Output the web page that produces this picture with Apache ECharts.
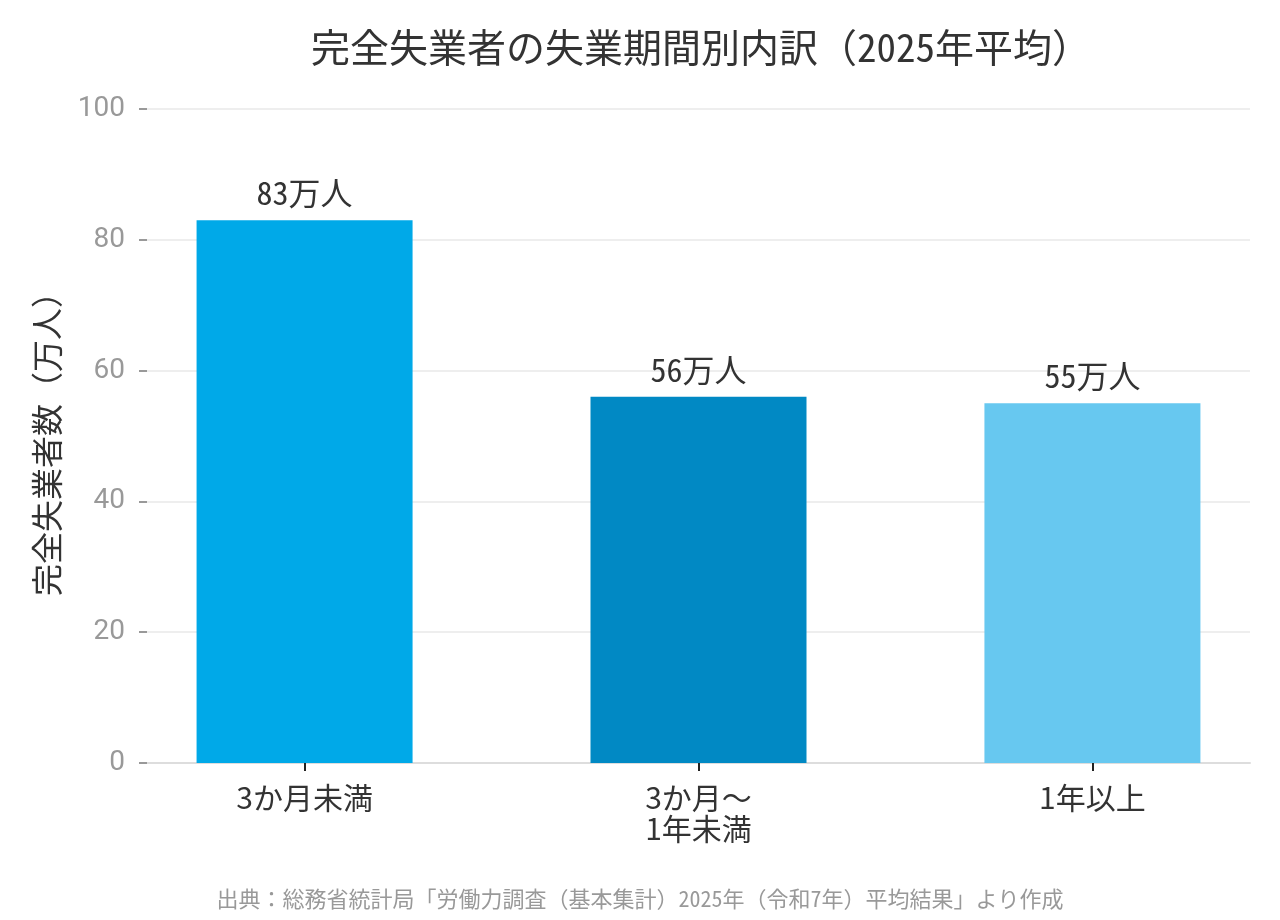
<!DOCTYPE html>
<html>
<head>
<meta charset="utf-8">
<script src="https://cdn.jsdelivr.net/npm/echarts@6/dist/echarts.min.js"></script>
<style>
  html, body { margin: 0; padding: 0; background: #fff; }
  #chart { width: 1280px; height: 920px; }
</style>
</head>
<body>
<div id="chart"></div>
<script>
// data
var categories = ['3か月未満', '3か月〜\n1年未満', '1年以上'];
var values = [83, 56, 55];
var barColors = ['#00A9E8', '#0189C4', '#67C8F0'];
var yTicks = [0, 20, 40, 60, 80, 100];

var monoFont = '"Noto Sans Mono CJK JP", "Noto Sans CJK JP", sans-serif';
var cjkFont = '"Noto Sans CJK JP", sans-serif';

var chart = echarts.init(document.getElementById('chart'));

// bars sit at x = 1,2,3 on a value axis so the side padding can match
var barData = values.map(function (v, i) {
  return {
    value: [i + 1, v],
    itemStyle: { color: barColors[i] }
  };
});

var option = {
  animation: false,
  backgroundColor: '#fff',
  title: {
    text: '完全失業者の失業期間別内訳（2025年平均）',
    left: 306,
    top: 23,
    textStyle: { fontFamily: monoFont, fontSize: 39, fontWeight: 'normal', color: '#333' }
  },
  grid: { left: 147, right: 30, top: 109, bottom: 157 },
  xAxis: {
    type: 'value',
    min: 0.6,
    max: 3.4,
    splitLine: { show: false },
    axisLine: { show: true, onZero: false, lineStyle: { color: '#dddddd', width: 2 } },
    axisTick: {
      show: true,
      customValues: [1, 2, 3],
      length: 8,
      lineStyle: { color: '#222', width: 2 }
    },
    axisLabel: {
      customValues: [1, 2, 3],
      margin: 19,
      fontFamily: cjkFont,
      fontSize: 30,
      lineHeight: 31,
      color: '#333',
      formatter: function (v) { return categories[Math.round(v) - 1]; }
    }
  },
  yAxis: {
    type: 'value',
    min: yTicks[0],
    max: yTicks[yTicks.length - 1],
    interval: 20,
    name: '完全失業者数（万人）',
    nameLocation: 'middle',
    nameGap: 84,
    nameTextStyle: { fontFamily: cjkFont, fontSize: 32, color: '#333' },
    axisLine: { show: false },
    axisTick: { show: true, length: 8, lineStyle: { color: '#999', width: 2 } },
    axisLabel: { margin: 22, fontFamily: 'Roboto, "Noto Sans", sans-serif', fontSize: 28, color: '#999' },
    splitLine: { show: true, lineStyle: { color: '#eeeeee', width: 2 } }
  },
  series: [{
    type: 'bar',
    data: barData,
    barWidth: 216,
    label: {
      show: true,
      position: 'top',
      distance: 11,
      fontFamily: monoFont,
      fontSize: 32,
      color: '#333',
      formatter: function (p) { return p.value[1] + '万人'; }
    }
  }],
  graphic: [{
    type: 'text',
    left: 'center',
    top: 888,
    style: {
      text: '出典：総務省統計局「労働力調査（基本集計）2025年（令和7年）平均結果」より作成',
      fontFamily: monoFont,
      fontSize: 22,
      fill: '#999'
    }
  }]
};

chart.setOption(option);
</script>
</body>
</html>
